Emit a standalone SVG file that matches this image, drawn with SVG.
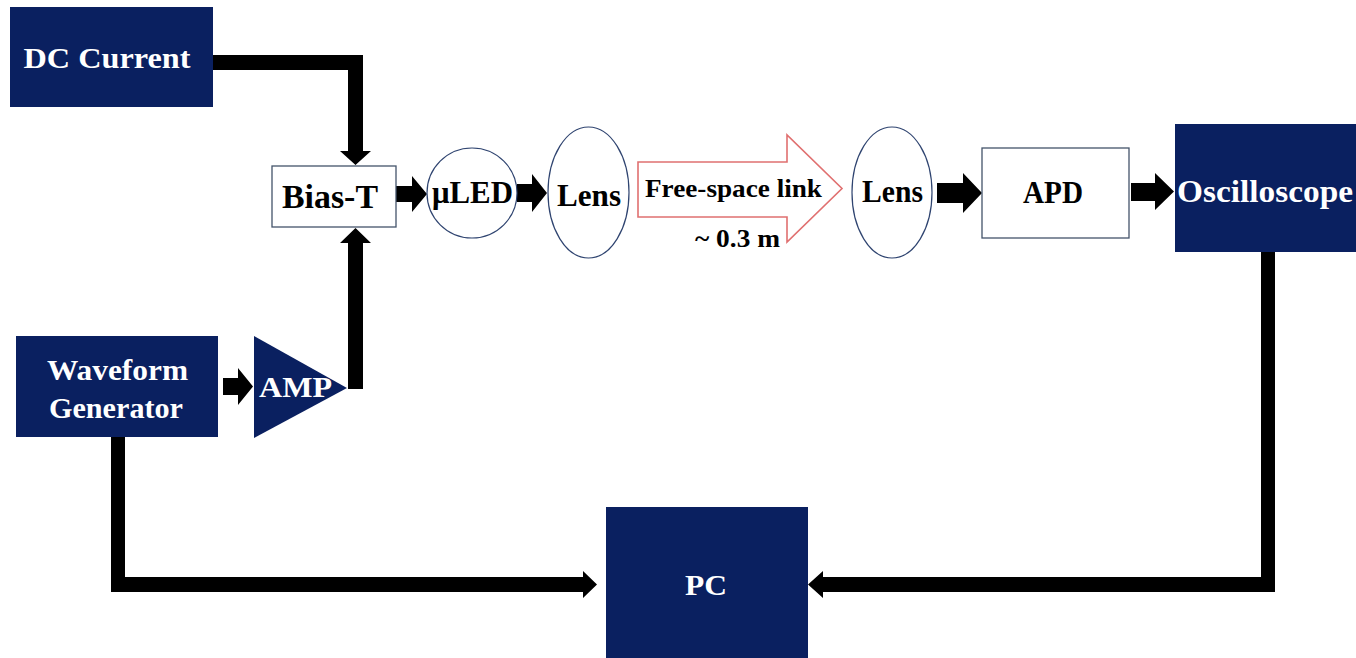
<svg xmlns="http://www.w3.org/2000/svg" width="1356" height="658" viewBox="0 0 1356 658">
<style>
.navy{fill:#0a2060}
.wbox{fill:#ffffff;stroke:#44546a;stroke-width:1.3}
.lens{fill:#ffffff;stroke:#2f4470;stroke-width:1.2}
.t{font-family:"Liberation Serif","Times New Roman",serif;font-weight:bold;text-anchor:middle}
.w{fill:#ffffff}
.k{fill:#000000}
.conn{fill:#000000}
</style>
<rect width="1356" height="658" fill="#ffffff"/>
<g id="connectors">
<polygon class="conn" points="213,55 363,55 363,151 371,151 355.5,165 340,151 348,151 348,70 213,70"/>
<polygon class="conn" points="348,389 363,389 363,243 371,243 355.5,228 340,243 348,243"/>
<polygon class="conn" points="396,186 412,186 412,176 427,194 412,212 412,202 396,202"/>
<polygon class="conn" points="517,184 532,184 532,174 547,193 532,212 532,202 517,202"/>
<polygon class="conn" points="937,183 963,183 963,173 982,193 963,213 963,203 937,203"/>
<polygon class="conn" points="1131,183 1155,183 1155,173 1174,191.5 1155,210 1155,201 1131,201"/>
<polygon class="conn" points="223,378 238,378 238,368 253,386.5 238,405 238,395 223,395"/>
<polygon class="conn" points="111,437 125,437 125,577 583,577 583,571 597,584.5 583,598 583,592 111,592"/>
<polygon class="conn" points="1261,252 1275,252 1275,592 823,592 823,598 808,584.5 823,571 823,577 1261,577"/>
</g>
<g id="dc-current">
<rect class="navy" x="10" y="7" width="203" height="100"/>
<text class="t w" x="107" y="68" font-size="30" textLength="167" lengthAdjust="spacingAndGlyphs">DC Current</text>
</g>
<g id="bias-t">
<rect class="wbox" x="272" y="166" width="124" height="61"/>
<text class="t k" x="330" y="208" font-size="34" textLength="96" lengthAdjust="spacingAndGlyphs">Bias-T</text>
</g>
<g id="uled">
<ellipse class="lens" cx="472" cy="193" rx="45" ry="45"/>
<text class="t k" x="472.5" y="203" font-size="32" textLength="81" lengthAdjust="spacingAndGlyphs">μLED</text>
</g>
<g id="lens1">
<ellipse class="lens" cx="588.5" cy="192.5" rx="40.5" ry="65.5"/>
<text class="t k" x="589" y="206" font-size="32" textLength="64" lengthAdjust="spacingAndGlyphs">Lens</text>
</g>
<g id="free-space-link">
<polygon points="638,162 787,162 787,135 842,188.5 787,242 787,217 638,217" fill="#ffffff" stroke="#e07070" stroke-width="1.6"/>
<text class="t k" x="733.5" y="197" font-size="25" textLength="177" lengthAdjust="spacingAndGlyphs">Free-space link</text>
<text class="t k" x="737.5" y="247" font-size="25" textLength="85" lengthAdjust="spacingAndGlyphs">~ 0.3 m</text>
</g>
<g id="lens2">
<ellipse class="lens" cx="892" cy="192.5" rx="40" ry="65.5"/>
<text class="t k" x="892.5" y="202" font-size="32" textLength="61" lengthAdjust="spacingAndGlyphs">Lens</text>
</g>
<g id="apd">
<rect class="wbox" x="982" y="148" width="147" height="90"/>
<text class="t k" x="1053" y="203" font-size="32" textLength="60" lengthAdjust="spacingAndGlyphs">APD</text>
</g>
<g id="oscilloscope">
<rect class="navy" x="1175" y="124" width="181" height="128"/>
<text class="t w" x="1265" y="202" font-size="32" textLength="176" lengthAdjust="spacingAndGlyphs">Oscilloscope</text>
</g>
<g id="waveform-generator">
<rect class="navy" x="16" y="336" width="202" height="101"/>
<text class="t w" x="117.5" y="380" font-size="30" textLength="141" lengthAdjust="spacingAndGlyphs">Waveform</text>
<text class="t w" x="116" y="418" font-size="30" textLength="134" lengthAdjust="spacingAndGlyphs">Generator</text>
</g>
<g id="amp">
<polygon class="navy" points="254,336 347,388 254,438"/>
<text class="t w" x="295.5" y="397" font-size="30" textLength="73" lengthAdjust="spacingAndGlyphs">AMP</text>
</g>
<g id="pc">
<rect class="navy" x="606" y="507" width="202" height="151"/>
<text class="t w" x="706" y="595" font-size="30" textLength="42" lengthAdjust="spacingAndGlyphs">PC</text>
</g>
</svg>
